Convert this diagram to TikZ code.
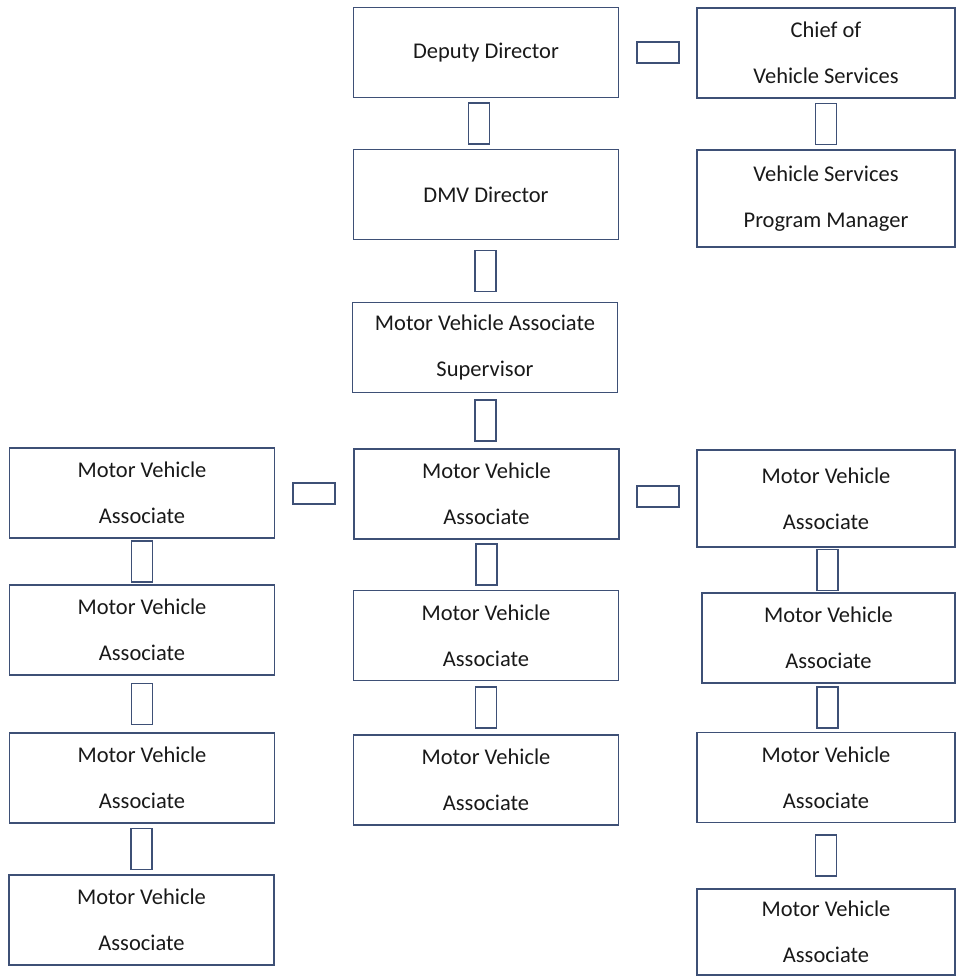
\documentclass[tikz,border=0pt]{standalone}
\usepackage{fontspec}
\setmainfont{Carlito}
\definecolor{boxline}{RGB}{62,80,118}
\definecolor{boxtext}{RGB}{25,25,25}
\begin{document}
\begin{tikzpicture}[x=0.02cm,y=-0.02cm,
  box/.style={draw=boxline,line width=1.1pt,rectangle,minimum width=5.3cm,minimum height=1.8cm,inner sep=0pt,align=center,text=boxtext,font=\fontsize{12.8}{26}\selectfont},
  vlink/.style={draw=boxline,line width=1.1pt,rectangle,minimum width=0.42cm,minimum height=0.82cm,inner sep=0pt},
  hlink/.style={draw=boxline,line width=1.1pt,rectangle,minimum width=0.84cm,minimum height=0.42cm,inner sep=0pt}]
\useasboundingbox (0,0) rectangle (956,978);
\node[box] (dep) at (486,52.5) {Deputy Director};
\node[box,minimum width=5.16cm] (chief) at (826,53) {Chief of\\Vehicle Services};
\node[box] (dmv) at (486,194.5) {DMV Director};
\node[box,minimum width=5.16cm,minimum height=1.94cm] (pm) at (826,198.5) {Vehicle Services\\Program Manager};
\node[box] (sup) at (485,347.5) {Motor Vehicle Associate\\Supervisor};
\node[box] (c1) at (486.5,494) {Motor Vehicle\\Associate};
\node[box] (c2) at (486,635.5) {Motor Vehicle\\Associate};
\node[box] (c3) at (486,780) {Motor Vehicle\\Associate};
\node[box] (l1) at (142,493) {Motor Vehicle\\Associate};
\node[box] (l2) at (142,630) {Motor Vehicle\\Associate};
\node[box] (l3) at (142,778) {Motor Vehicle\\Associate};
\node[box] (l4) at (141.5,920) {Motor Vehicle\\Associate};
\node[box,minimum width=5.16cm,minimum height=1.94cm] (r1) at (826,498.5) {Motor Vehicle\\Associate};
\node[box,minimum width=5.06cm] (r2) at (828.5,638) {Motor Vehicle\\Associate};
\node[box,minimum width=5.16cm] (r3) at (826,777.5) {Motor Vehicle\\Associate};
\node[box,minimum width=5.16cm,minimum height=1.72cm] (r4) at (826,932) {Motor Vehicle\\Associate};
\path (dep.south) -- node[vlink,xshift=-0.14cm]{} (dmv.north);
\foreach \u/\v in {chief/pm,dmv/sup,sup/c1,c1/c2,c2/c3,l1/l2,l2/l3,l3/l4,r1/r2,r2/r3,r3/r4}
  \path (\u.south) -- node[vlink]{} (\v.north);
\foreach \u/\v in {dep/chief,l1/c1,c1/r1}
  \path (\u.east) -- node[hlink]{} (\v.west);
\end{tikzpicture}
\end{document}
